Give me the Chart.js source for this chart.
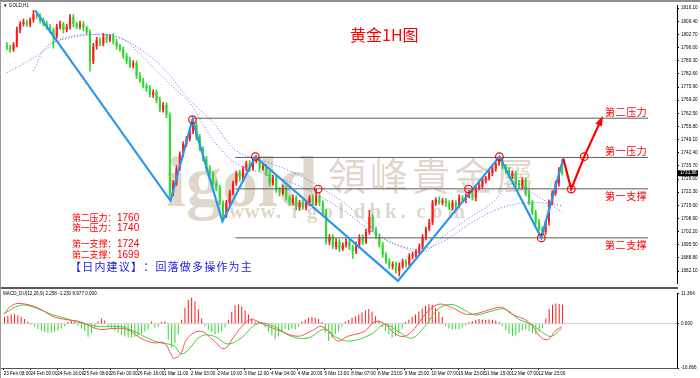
<!DOCTYPE html>
<html>
<head>
<meta charset="utf-8">
<script src="https://cdn.jsdelivr.net/npm/chart.js@4.4.1/dist/chart.umd.min.js"></script>
<style>
html,body{margin:0;padding:0;background:#fff;}
#wrap{position:relative;width:700px;height:378px;overflow:hidden;background:#fff;}
#main{position:absolute;left:0;top:0;}
#macd{position:absolute;left:0;top:289px;}
#topbar{position:absolute;left:0;top:0;width:700px;height:2px;background:#8e8e8e;}
#leftbar{position:absolute;left:0;top:0;width:1px;height:378px;background:#9a9a9a;}
</style>
</head>
<body>
<div id="wrap">
  <canvas id="main" width="700" height="289"></canvas>
  <canvas id="macd" width="700" height="89"></canvas>
  <div id="topbar"></div>
  <div id="leftbar"></div>
</div>
<script>
// 2-hour bars
const firstOpen = 1797.0;
const closes = [
  1796.0,1795.0,1797.5,1805.0,1808.0,1809.0,1808.0,1810.0,1813.0,1812.0,
  1810.0,1808.0,1806.5,1805.0,1801.7,1806.6,1808.0,1805.0,1806.6,1811.6,
  1808.0,1806.6,1808.0,1806.0,1804.0,1789.0,1796.7,1800.0,1798.0,1801.7,
  1800.0,1801.7,1799.0,1796.7,1795.2,1791.7,1789.2,1786.7,1788.2,1781.7,
  1779.2,1776.7,1775.2,1771.8,1773.3,1769.3,1764.3,1766.8,1761.8,1722.0,
  1727.0,1734.4,1741.9,1746.8,1749.3,1753.3,1756.8,1750.3,1744.4,1739.4,
  1734.4,1731.9,1726.9,1724.4,1716.9,1710.5,1716.9,1721.9,1726.9,1731.9,
  1729.4,1734.4,1736.9,1734.4,1738.4,1738.4,1734.4,1735.4,1731.9,1726.9,
  1729.4,1723.4,1721.9,1724.4,1719.4,1716.9,1719.4,1714.5,1716.9,1714.5,
  1716.9,1719.4,1716.9,1720.4,1716.9,1712.0,1697.0,1699.5,1694.5,1697.0,
  1693.5,1695.5,1697.0,1694.5,1692.0,1695.5,1699.5,1697.0,1702.0,1709.5,
  1703.5,1699.5,1695.5,1690.5,1687.0,1684.6,1685.6,1682.0,1684.6,1687.0,
  1685.6,1689.5,1690.5,1692.0,1694.5,1699.5,1703.5,1707.0,1717.0,1718.4,
  1717.0,1718.0,1716.5,1714.5,1717.0,1715.5,1719.4,1718.4,1720.4,1721.9,
  1719.4,1724.4,1725.4,1728.4,1729.4,1731.9,1734.4,1736.9,1738.4,1735.4,
  1733.4,1730.4,1731.9,1726.9,1725.4,1728.4,1721.9,1716.9,1712.0,1707.0,
  1703.5,1702.0,1707.0,1716.9,1721.9,1726.9,1733.4,1731.96
];
const wickUp = [
  1.5,1.2,1.0,1.5,1.2,1.5,1.0,1.2,2.0,1.0,
  1.2,1.0,1.5,1.2,1.0,1.2,1.5,1.0,1.2,1.4,
  1.2,1.0,1.5,1.2,1.0,1.0,1.5,1.2,1.0,1.5,
  1.2,1.0,1.5,1.2,1.0,1.2,1.5,2.0,1.2,1.0,
  1.5,1.2,1.0,1.5,1.2,1.0,1.5,1.2,1.0,1.0,
  1.2,1.5,1.0,1.2,1.5,1.0,2.5,1.2,1.5,1.0,
  1.2,1.5,1.0,1.2,1.5,1.0,1.2,1.5,1.0,1.2,
  1.5,1.0,1.2,1.5,1.0,2.5,1.2,1.5,1.0,1.2,
  1.5,1.0,1.2,1.5,1.0,1.2,1.5,1.0,1.2,1.5,
  1.0,1.2,1.5,3.5,1.2,1.0,1.5,1.2,1.0,1.5,
  1.2,1.0,1.5,1.2,1.0,1.5,1.2,1.0,1.5,3.5,
  1.2,1.0,1.5,1.2,1.0,1.5,1.2,1.0,1.5,1.2,
  1.0,1.5,1.2,1.0,1.5,1.2,1.0,1.5,1.2,1.0,
  1.5,1.2,1.0,1.5,1.2,1.0,1.5,1.2,1.0,1.5,
  1.2,1.0,1.5,1.2,1.0,1.5,1.2,1.0,2.0,1.2,
  1.0,1.5,1.2,1.0,1.5,1.2,1.0,1.5,1.2,1.0,
  1.5,1.2,1.0,1.5,1.2,1.0,1.5,5.6
];
const wickDn = [
  1.2,1.5,1.0,1.2,1.5,1.0,1.2,1.5,1.0,1.2,
  1.5,1.0,1.2,1.5,6.0,1.0,1.2,1.5,1.0,1.2,
  1.5,1.0,1.2,1.5,1.0,5.0,1.2,1.5,1.0,1.2,
  1.5,1.0,1.2,1.5,1.0,1.2,1.5,1.0,1.2,1.5,
  1.0,1.2,1.5,1.0,1.2,1.5,1.0,1.2,1.5,4.0,
  1.5,1.2,1.0,1.5,1.2,1.0,1.2,1.5,1.0,1.2,
  1.5,1.0,1.2,1.5,1.0,3.0,1.2,1.5,1.0,1.2,
  1.5,1.0,1.2,1.5,1.0,1.2,1.5,1.0,1.2,1.5,
  1.0,1.2,1.5,1.0,1.2,1.5,1.0,1.2,1.5,1.0,
  1.2,1.5,1.0,1.2,1.5,1.0,1.2,1.5,1.0,1.2,
  1.5,1.0,1.2,1.5,3.5,1.0,1.2,1.5,1.0,1.2,
  1.5,1.0,1.2,1.5,1.0,1.2,1.5,1.0,2.4,1.2,
  1.5,1.0,1.2,1.5,1.0,1.2,1.5,1.0,1.2,1.5,
  1.0,1.2,1.5,1.0,1.2,1.5,1.0,1.2,1.5,1.0,
  1.2,1.5,1.0,1.2,1.5,1.0,1.2,1.5,1.0,1.2,
  1.5,1.0,1.2,1.5,1.0,1.2,1.5,1.0,1.2,1.5,
  1.0,3.0,1.2,1.5,1.0,1.2,1.5,1.0
];
const lastPrice = 1731.96;

// dotted moving averages: [bar, price]
const maA = [[0,1783.2],[5,1787.7],[11,1794.2],[16,1800.2],[25,1802.7],[34,1800.7],[41,1794.2],[47,1785.7],[55,1769.3],[62,1757.8],[69,1743.4],[78,1737.9],[88,1730.9],[96,1722.9],[102,1716.0],[107,1708.5],[113,1699.5],[119,1694.5],[125,1693.5],[131,1697.0],[140,1707.0],[149,1714.5],[158,1717.0],[167,1715.5]];
const maB = [[8,1784.2],[12,1796.7],[17,1800.2],[27,1802.7],[33,1801.7],[36,1799.2],[42,1789.2],[50,1775.8],[55,1767.8],[59,1756.8],[63,1746.8],[69,1736.9],[77,1731.9],[86,1726.9],[95,1719.4],[102,1712.0],[110,1702.0],[117,1695.5],[125,1692.0],[131,1699.5],[137,1707.0],[146,1717.0],[152,1726.9],[158,1721.9],[167,1712.0]];

// drawn objects
const zigzag = [[8.5,1815.0],[49.2,1717.9],[55.8,1759.3],[64.8,1707.5],[74.7,1740.4],[117.6,1677.1],[148.1,1740.4],[160.7,1699.0],[167.3,1739.4]];
const forecast = [[167.3,1739.4],[169.7,1723.9],[173.6,1740.4],[178.7,1759.3]];
const circles = [[55.8,1759.3],[74.7,1740.4],[93.6,1723.9],[138.8,1723.9],[148.1,1740.4],[160.7,1699.0],[169.7,1723.9],[173.6,1740.4]];
const levels = [1760, 1740, 1724, 1699];
const levelNames = ['第二压力','第一压力','第一支撑','第二支撑'];
const levelFrom = [55.8, 68.7, 68.7, 68.7];
const levelTo = 192.8;

// MACD
const macdHist = [
  2.6,3.0,3.6,3.8,3.2,2.6,1.8,0.8,-0.5,-1.2,
  -2.0,-2.6,-3.2,-3.5,-3.6,-3.2,-2.6,-1.8,-1.0,0.6,
  1.0,0.8,-0.8,-1.8,-2.8,-5.0,-3.8,-2.0,0.8,2.0,
  1.2,-0.8,-1.6,-2.6,-3.4,-4.2,-4.8,-5.2,-5.4,-5.0,
  -4.4,-3.8,-3.0,-2.2,0.8,-1.5,-1.2,0.6,0.8,-6.0,
  -9.0,-7.5,-4.0,1.5,6.0,9.0,9.9,8.5,5.5,2.0,
  -1.0,-2.2,-3.2,-4.0,-3.6,-3.0,-1.5,1.5,4.5,7.0,
  7.4,6.5,5.0,3.5,2.0,0.8,1.0,0.6,-1.5,-3.0,
  -4.5,-5.9,-4.8,-3.0,-2.0,-2.4,-1.8,-2.2,-1.2,0.8,
  1.6,2.2,2.5,2.2,1.8,0.6,-3.5,-6.6,-5.5,-4.0,
  -3.0,-1.2,0.8,1.5,2.2,2.8,3.5,4.2,5.0,5.6,
  4.5,2.8,1.2,-1.2,-2.8,-4.0,-5.4,-4.8,-3.8,-2.0,
  0.6,1.5,2.5,3.5,4.6,5.8,6.8,7.4,7.2,6.0,
  4.5,2.5,-1.0,-1.8,-2.2,-2.0,-2.2,-1.5,-0.8,0.6,
  1.0,1.5,1.8,1.6,1.4,1.6,1.5,1.2,0.6,-1.0,
  -2.5,-3.8,-4.8,-4.5,-3.5,-2.5,-2.0,-2.8,-3.6,-4.0,
  -3.0,-1.5,2.0,5.5,7.2,7.7,7.5,7.3
];
const difLine = [[0,3.7],[3,7.3],[7,7.3],[11,5.5],[15,2.6],[19,1.5],[23,0.7],[26,-1.1],[29,-2.2],[33,-1.8],[37,-2.2],[41,-5.5],[45,-7.3],[48,-7.3],[50,-11.4],[51,-13.2],[53,-11.4],[55,-5.5],[59,-2.9],[63,-6.6],[66,-9.5],[69,-4.8],[71,-1.5],[74,1.5],[78,-0.4],[83,-2.9],[88,-4.8],[92,-2.9],[95,-1.1],[98,-4.0],[100,-6.6],[103,-4.8],[108,-2.9],[111,0.7],[114,0.0],[117,-3.7],[120,-4.8],[123,-1.8],[126,3.3],[130,7.3],[134,6.2],[138,3.7],[141,3.7],[145,5.1],[149,6.2],[152,3.7],[157,0.7],[161,-5.5],[163,-5.9],[165,-2.9],[167,-1.1]];
const deaLine = [[0,3.7],[5,7.0],[9,6.2],[14,3.7],[19,1.8],[24,0.0],[29,-1.1],[35,-1.1],[39,-2.9],[43,-5.5],[47,-7.3],[51,-8.4],[53,-11.4],[55,-10.3],[59,-4.8],[63,-4.8],[67,-7.7],[71,-5.5],[76,0.0],[81,-1.1],[86,-4.8],[91,-5.5],[96,-2.2],[100,-5.5],[104,-6.6],[110,-4.0],[114,-0.4],[118,-2.9],[122,-5.5],[126,-1.1],[130,5.5],[134,7.3],[138,5.1],[141,3.3],[145,4.4],[150,5.5],[154,1.8],[158,-0.4],[162,-4.0],[164,-4.8],[167,-1.8]];

// axes
const priceTicks = [1816.10,1809.40,1802.70,1796.00,1789.30,1782.60,1775.90,1769.20,1762.50,1755.80,1749.10,1742.40,1735.70,1729.00,1722.30,1715.60,1708.90,1702.20,1695.50,1688.80,1682.10];
const macdTicks = [11.364, 0, -16.866];
const xTickLabels = ['23 Feb 08:00','24 Feb 00:00','24 Feb 16:00','25 Feb 08:00','26 Feb 00:00','26 Feb 16:00','1 Mar 11:00','2 Mar 03:00','2 Mar 19:00','3 Mar 12:00','4 Mar 04:00','4 Mar 20:00','5 Mar 13:00','8 Mar 07:00','8 Mar 23:00','9 Mar 15:00','10 Mar 07:00','10 Mar 23:00','11 Mar 15:00','12 Mar 07:00','12 Mar 23:00'];
const SLOTS = 202;
const LABEL_EVERY = 8;

const UP = '#ff1a1a', DOWN = '#2fd82f';
const slots = Array.from({length: SLOTS}, (_, i) => i);
const opens = closes.map((c, i) => i ? closes[i - 1] : firstOpen);
const candleColors = closes.map((c, i) => c >= opens[i] ? UP : DOWN);
const bodies = closes.map((c, i) => [opens[i], c]);
const wicks = closes.map((c, i) => [Math.min(opens[i], c) - wickDn[i], Math.max(opens[i], c) + wickUp[i]]);
const pts = arr => arr.map(p => ({x: p[0], y: p[1]}));

const font = (size, fam) => `${size}px ${fam}`;
const CJK = '"Noto Sans CJK SC", sans-serif';
const NARROW = '"Liberation Sans Narrow", "Liberation Sans", sans-serif';
const SMALL = {size: 4.6, family: NARROW};

function spaced(ctx, text, x, y, adv) {
  for (const ch of text) { ctx.fillText(ch, x, y); x += adv; }
  return x;
}

const mainDecor = {
  id: 'mainDecor',
  beforeDatasetsDraw(chart) {
    const ctx = chart.ctx;
    ctx.save();
    ctx.fillStyle = 'rgba(196,184,158,0.55)';
    ctx.textBaseline = 'alphabetic';
    ctx.font = 'bold 72px "Liberation Serif", serif';
    ctx.fillText('igold', 166, 206);
    ctx.font = font(38, '"Noto Sans CJK TC", sans-serif');
    spaced(ctx, '領峰貴金屬', 328, 190, 42);
    ctx.font = 'bold 21px "Liberation Serif", serif';
    spaced(ctx, 'www.igoldhk.com', 229, 218, 15.6);
    ctx.restore();
  },
  afterDatasetsDraw(chart) {
    const ctx = chart.ctx;
    const xs = chart.scales.xl, ys = chart.scales.y;
    ctx.save();
    // arrow head on the forecast path
    const a = forecast[forecast.length - 2], b = forecast[forecast.length - 1];
    const ax = xs.getPixelForValue(a[0]), ay = ys.getPixelForValue(a[1]);
    const bx = xs.getPixelForValue(b[0]), by = ys.getPixelForValue(b[1]);
    const ang = Math.atan2(by - ay, bx - ax);
    ctx.fillStyle = '#ff0000';
    ctx.beginPath();
    ctx.moveTo(bx + Math.cos(ang) * 4, by + Math.sin(ang) * 4);
    ctx.lineTo(bx + Math.cos(ang + 2.6) * 7, by + Math.sin(ang + 2.6) * 7);
    ctx.lineTo(bx + Math.cos(ang - 2.6) * 7, by + Math.sin(ang - 2.6) * 7);
    ctx.closePath();
    ctx.fill();

    // title
    ctx.textBaseline = 'middle';
    ctx.fillStyle = '#ff0000';
    ctx.font = font(16, CJK);
    ctx.fillText('黄金1H图', 350, 35);

    // level names on the right
    ctx.font = font(10, CJK);
    levels.forEach((lv, i) => {
      const y = ys.getPixelForValue(lv) + (i < 2 ? -6 : 7);
      spaced(ctx, levelNames[i], 605, y, 10.6);
    });

    // left text block
    const rows = [218, 228, 244, 255];
    levels.forEach((lv, i) => {
      ctx.font = font(9, CJK);
      const x = spaced(ctx, levelNames[i] + '：', 72, rows[i], 8.8);
      ctx.font = font(10, '"Liberation Sans", sans-serif');
      ctx.fillText(String(lv), x + 1, rows[i]);
    });
    ctx.fillStyle = '#1a1ae6';
    ctx.font = font(11, CJK);
    spaced(ctx, '【日内建议】：回落做多操作为主', 70, 267, 12.2);

    // symbol caption
    ctx.fillStyle = '#000';
    ctx.font = font(4.6, NARROW);
    ctx.fillText('▼ GOLD,H1', 3, 6);
    ctx.restore();
  },
  afterDraw(chart) {
    const ctx = chart.ctx, ca = chart.chartArea;
    const ys = chart.scales.y;
    ctx.save();
    // current price box
    const py = ys.getPixelForValue(lastPrice);
    ctx.fillStyle = '#000';
    ctx.fillRect(ca.right + 1, py - 3, 20, 6);
    ctx.fillStyle = '#fff';
    ctx.font = font(4.6, NARROW);
    ctx.textBaseline = 'middle';
    ctx.fillText(lastPrice.toFixed(2), ca.right + 3, py);
    // panel separator
    ctx.fillStyle = '#5a5a5a';
    ctx.fillRect(0, 287, ca.right + 1, 2);
    ctx.restore();
  }
};

new Chart(document.getElementById('main'), {
  type: 'bar',
  data: {
    labels: slots,
    datasets: [
      {type: 'line', xAxisID: 'xl', data: pts(circles), showLine: false, pointRadius: 3.8, pointBorderWidth: 1.2,
       pointBorderColor: '#ff0000', pointBackgroundColor: 'rgba(0,0,0,0)', order: 0},
      {type: 'line', xAxisID: 'xl', data: pts(forecast), borderColor: '#ff0000', borderWidth: 2.2, pointRadius: 0, order: 1},
      {type: 'line', xAxisID: 'xl', data: pts(zigzag), borderColor: '#2b95ee', borderWidth: 2.2, pointRadius: 0, order: 1},
      ...levels.map((lv, i) => ({type: 'line', xAxisID: 'xl', data: [{x: levelFrom[i], y: lv}, {x: levelTo, y: lv}],
        borderColor: '#5c5c5c', borderWidth: 1, pointRadius: 0, order: 2})),
      {type: 'line', xAxisID: 'xl', data: pts(maA), borderColor: '#6a6ae6', borderWidth: 1, borderDash: [1, 2], pointRadius: 0, tension: 0.4, order: 3},
      {type: 'line', xAxisID: 'xl', data: pts(maB), borderColor: '#6a6ae6', borderWidth: 1, borderDash: [1, 2], pointRadius: 0, tension: 0.4, order: 3},
      {data: bodies, backgroundColor: candleColors, barPercentage: 0.62, categoryPercentage: 1, grouped: false, minBarLength: 1, order: 4},
      {data: wicks, backgroundColor: candleColors, barThickness: 1, grouped: false, order: 5}
    ]
  },
  options: {
    responsive: false,
    animation: false,
    events: [],
    layout: {padding: {left: 2, top: 3, right: 0, bottom: 1}},
    plugins: {legend: {display: false}, tooltip: {enabled: false}},
    scales: {
      x: {type: 'category', offset: true, display: false, grid: {offset: true}},
      xl: {type: 'linear', offset: false, display: false, min: -0.5, max: SLOTS - 0.5},
      y: {
        position: 'right', min: 1675.6, max: 1817.6,
        afterBuildTicks: s => { s.ticks = priceTicks.map(v => ({value: v})); },
        afterFit: s => { s.width = 23; },
        ticks: {autoSkip: false, padding: 2, color: '#000', font: SMALL, callback: v => Number(v).toFixed(2)},
        grid: {drawOnChartArea: false, tickLength: 2, color: '#000'},
        border: {color: '#000'}
      }
    }
  },
  plugins: [mainDecor]
});

const macdDecor = {
  id: 'macdDecor',
  afterDraw(chart) {
    const ctx = chart.ctx, ca = chart.chartArea;
    ctx.save();
    ctx.fillStyle = '#000';
    ctx.font = font(4.6, NARROW);
    ctx.textBaseline = 'middle';
    ctx.fillText('MACD_DU(12,26,9) 2.258 -1.230 6.977 0.000', 3, 5);
    ctx.fillStyle = '#555';
    ctx.fillRect(0, ca.bottom, ca.right + 1, 1);
    ctx.restore();
  }
};

new Chart(document.getElementById('macd'), {
  type: 'bar',
  data: {
    labels: slots,
    datasets: [
      {type: 'line', xAxisID: 'xl', data: pts(difLine), borderColor: '#ff5050', borderWidth: 1, pointRadius: 0, tension: 0.4, order: 1},
      {type: 'line', xAxisID: 'xl', data: pts(deaLine), borderColor: '#3ccf3c', borderWidth: 1, pointRadius: 0, tension: 0.4, order: 2},
      {type: 'line', xAxisID: 'xl', data: [{x: -0.5, y: 0}, {x: SLOTS - 0.5, y: 0}], borderColor: '#d0d0d0', borderWidth: 1, pointRadius: 0, order: 4},
      {data: macdHist, backgroundColor: macdHist.map(v => v >= 0 ? UP : DOWN), barPercentage: 0.6, categoryPercentage: 1, order: 3}
    ]
  },
  options: {
    responsive: false,
    animation: false,
    events: [],
    layout: {padding: {left: 2, top: 2, right: 0, bottom: 0}},
    plugins: {legend: {display: false}, tooltip: {enabled: false}},
    scales: {
      x: {
        type: 'category', offset: true, grid: {offset: false, drawOnChartArea: false, tickLength: 2, color: '#000'},
        border: {color: '#000'},
        afterFit: s => { s.height = 10; },
        ticks: {autoSkip: false, maxRotation: 0, align: 'start', padding: 1, color: '#000', font: SMALL,
          callback: (v, i) => i % LABEL_EVERY === 0 && xTickLabels[i / LABEL_EVERY] ? xTickLabels[i / LABEL_EVERY] : null}
      },
      xl: {type: 'linear', offset: false, display: false, min: -0.5, max: SLOTS - 0.5},
      y: {
        position: 'right', min: macdTicks[2], max: macdTicks[0],
        afterBuildTicks: s => { s.ticks = macdTicks.map(v => ({value: v})); },
        afterFit: s => { s.width = 23; },
        ticks: {autoSkip: false, padding: 2, color: '#000', font: SMALL, callback: v => Number(v).toFixed(3)},
        grid: {drawOnChartArea: false, tickLength: 2, color: '#000'},
        border: {color: '#000'}
      }
    }
  },
  plugins: [macdDecor]
});
</script>
</body>
</html>
